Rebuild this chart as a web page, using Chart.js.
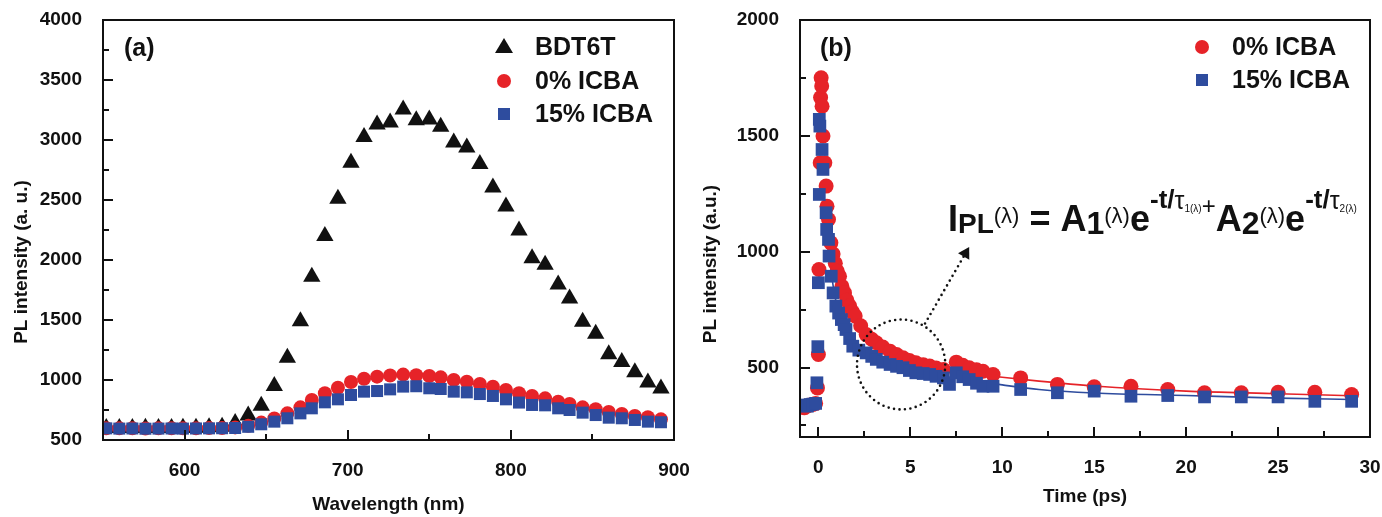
<!DOCTYPE html>
<html>
<head>
<meta charset="utf-8">
<script src="https://cdn.jsdelivr.net/npm/chart.js@4.4.1/dist/chart.umd.min.js"></script>
<style>
  body { margin: 0; background: #fff; }
  #wrap { position: relative; width: 1382px; height: 517px; overflow: hidden;
          font-family: "Liberation Sans", Arial, sans-serif; font-weight: bold; color: #111; }
  canvas { position: absolute; top: 0; }
  #chartA { left: 0; }
  #chartB { left: 700px; }
  .txt { position: absolute; font-size: 25px; line-height: 25px; white-space: nowrap; }
  .tri { position: absolute; width: 0; height: 0; border-left: 9px solid transparent;
         border-right: 9px solid transparent; border-bottom: 15px solid #111; }
  .dot { position: absolute; width: 14px; height: 14px; border-radius: 50%; background: #e62328; }
  .sq { position: absolute; width: 12px; height: 12px; background: #2e4c9e; }
  #eq { position: absolute; left: 948px; top: 201px; display: flex; align-items: baseline;
        font-size: 36px; line-height: 36px; white-space: nowrap; }
  #eq span { position: relative; line-height: 1; }
  #eq .pl { font-size: 28px; top: 2px; }
  #eq .lam { font-size: 22px; font-weight: normal; top: -8px; }
  #eq .big { font-size: 32px; top: 3px; }
  #eq .ex { font-size: 26px; top: -23px; }
  #eq .tau { font-size: 25px; font-weight: normal; top: -22px; }
  #eq .ts { font-size: 10px; font-weight: normal; top: -19px; }
  #eq .plus { font-size: 24px; font-weight: normal; top: -17px; }
</style>
</head>
<body>
<div id="wrap">
  <canvas id="chartA" width="690" height="517"></canvas>
  <canvas id="chartB" width="682" height="517"></canvas>

  <div class="txt" style="left:124px; top:35px;">(a)</div>
  <div class="tri" style="left:495px; top:38px;"></div>
  <div class="txt" style="left:535px; top:34px;">BDT6T</div>
  <div class="dot" style="left:497px; top:74px;"></div>
  <div class="txt" style="left:535px; top:68px;">0% ICBA</div>
  <div class="sq" style="left:498px; top:108px;"></div>
  <div class="txt" style="left:535px; top:101px;">15% ICBA</div>

  <div class="txt" style="left:820px; top:35px;">(b)</div>
  <div class="dot" style="left:1195px; top:40px;"></div>
  <div class="txt" style="left:1232px; top:34px;">0% ICBA</div>
  <div class="sq" style="left:1196px; top:74px;"></div>
  <div class="txt" style="left:1232px; top:67px;">15% ICBA</div>

  <div id="eq">I<span class="pl">PL</span><span class="lam">(λ)</span>&nbsp;=&nbsp;A<span class="big">1</span><span class="lam">(λ)</span>e<span class="ex">-t/</span><span class="tau">τ</span><span class="ts">1(λ)</span><span class="plus">+</span>A<span class="big">2</span><span class="lam">(λ)</span>e<span class="ex">-t/</span><span class="tau">τ</span><span class="ts">2(λ)</span></div>
</div>

<script>
// panel (a): steady-state PL spectra
const wavelength = [552, 560, 568, 576, 584, 592, 599, 607, 615, 623, 631, 639, 647, 655, 663,
  671, 678, 686, 694, 702, 710, 718, 726, 734, 742, 750, 757, 765, 773, 781, 789, 797, 805,
  813, 821, 829, 836, 844, 852, 860, 868, 876, 884, 892];
const bdt6t = [600, 601, 600, 602, 601, 600, 602, 603, 606, 611, 641, 705, 785, 950, 1185,
  1490, 1860, 2200, 2510, 2810, 3025, 3130, 3145, 3255, 3165, 3170, 3110, 2980, 2937, 2800,
  2605, 2445, 2245, 2015, 1960, 1795, 1680, 1485, 1385, 1215, 1150, 1065, 980, 930];
const icba0 = [598, 597, 598, 596, 597, 598, 597, 598, 599, 600, 605, 618, 645, 680, 722, 772,
  833, 889, 936, 983, 1011, 1028, 1038, 1045, 1040, 1033, 1022, 1000, 986, 967, 944, 917, 889,
  867, 847, 819, 800, 772, 756, 733, 717, 700, 689, 672];
const icba15 = [597, 595, 596, 594, 595, 596, 595, 596, 597, 598, 600, 610, 631, 653, 681, 722,
  764, 814, 839, 875, 903, 908, 922, 945, 948, 931, 925, 903, 897, 883, 867, 839, 812, 792, 789,
  764, 750, 728, 708, 686, 681, 667, 653, 648];
const waveTicks = [600, 700, 800, 900];
const waveMinor = [650, 750, 850];
const plTicksA = [500, 1000, 1500, 2000, 2500, 3000, 3500, 4000];
const plMinorA = [750, 1250, 1750, 2250, 2750, 3250, 3750];

// panel (b): time-resolved PL
const timeRed = [-0.9, -0.75, -0.6, -0.45, -0.3, -0.15, -0.05, 0.0, 0.03, 0.1, 0.12, 0.15, 0.18,
  0.2, 0.25, 0.35, 0.42, 0.47, 0.55, 0.68, 0.8, 0.92, 1.03, 1.15, 1.28, 1.42, 1.55, 1.7, 1.85,
  2.0, 2.3, 2.6, 2.9, 3.15, 3.5, 3.9, 4.25, 4.6, 4.95, 5.3, 5.7, 6.05, 6.4, 6.8, 7.5, 7.85, 8.2,
  8.6, 8.95, 9.5, 11, 13, 15, 17, 19, 21, 23, 25, 27, 29];
const plRed = [330, 326, 335, 338, 340, 345, 412, 556, 923, 1384, 1665, 1751, 1715, 1628, 1499,
  1384, 1283, 1196, 1139, 1038, 990, 950, 915, 894, 850, 822, 790, 765, 740, 722, 680, 642, 622,
  607, 588, 570, 556, 542, 530, 520, 512, 506, 498, 491, 523, 510, 499, 490, 484, 470, 455, 427,
  417, 419, 405, 391, 391, 393, 393, 383];
const timeBlue = [-0.9, -0.75, -0.6, -0.45, -0.3, -0.15, -0.08, -0.03, 0.0, 0.05, 0.08, 0.2, 0.25,
  0.05, 0.42, 0.45, 0.55, 0.58, 0.7, 0.8, 0.95, 1.1, 1.25, 1.4, 1.5, 1.7, 1.87, 2.2, 2.6, 2.9,
  3.15, 3.5, 3.9, 4.25, 4.6, 4.95, 5.3, 5.7, 6.05, 6.4, 6.8, 7.13, 7.5, 7.85, 8.2, 8.6, 8.95, 9.5,
  11, 13, 15, 17, 19, 21, 23, 25, 27, 29];
const plBlue = [335, 338, 333, 340, 342, 345, 434, 590, 866, 1571, 1542, 1441, 1355, 1247, 1168,
  1096, 1053, 981, 894, 822, 765, 735, 707, 685, 664, 625, 592, 575, 563, 548, 535, 523, 513, 505,
  499, 487, 477, 474, 470, 462, 455, 427, 477, 460, 448, 432, 419, 419, 405, 391, 398, 376, 379,
  373, 373, 373, 354, 354];
// fitted bi-exponential curves
const timeFit = [0.5, 0.75, 1, 1.5, 2, 3, 4, 5, 6, 7, 8, 10, 12, 15, 20, 25, 29];
const fitRed = [1150, 1020, 930, 800, 715, 615, 565, 530, 505, 490, 478, 458, 441, 420, 398, 387, 378];
const fitBlue = [1050, 880, 770, 650, 600, 540, 508, 487, 472, 460, 448, 425, 405, 390, 379, 368, 362];
const timeTicks = [0, 5, 10, 15, 20, 25, 30];
const timeMinor = [2.5, 7.5, 12.5, 17.5, 22.5, 27.5];
const plTicksB = [500, 1000, 1500, 2000];
const plMinorB = [250, 750, 1250, 1750];

const RED = '#e62328';
const BLUE = '#2e4c9e';
const INK = '#111';
const FONT = '"Liberation Sans", Arial, sans-serif';

Chart.defaults.font.family = FONT;
Chart.defaults.font.weight = 'bold';
Chart.defaults.font.size = 19;
Chart.defaults.color = INK;

const pairs = (xs, ys) => xs.map((x, i) => ({ x: x, y: ys[i] }));

// box around the plot, inward tick marks on the bottom and left axes, rotated y title
const framePlugin = {
  id: 'frame',
  afterDatasetsDraw(chart, args, opts) {
    const { ctx, chartArea: a, scales: { x, y } } = chart;
    ctx.save();
    ctx.strokeStyle = INK;
    ctx.lineWidth = 2;
    ctx.beginPath();
    const xTick = (v, len) => {
      const px = Math.round(x.getPixelForValue(v));
      ctx.moveTo(px, a.bottom);
      ctx.lineTo(px, a.bottom - len);
    };
    const yTick = (v, len) => {
      const py = Math.round(y.getPixelForValue(v));
      ctx.moveTo(a.left, py);
      ctx.lineTo(a.left + len, py);
    };
    x.ticks.forEach(t => xTick(t.value, 10));
    opts.xMinor.forEach(v => xTick(v, 6));
    y.ticks.forEach(t => yTick(t.value, 10));
    opts.yMinor.forEach(v => yTick(v, 6));
    ctx.stroke();
    ctx.strokeRect(a.left, a.top, a.right - a.left, a.bottom - a.top);

    ctx.translate(opts.titleX, opts.titleY);
    ctx.rotate(-Math.PI / 2);
    ctx.fillStyle = INK;
    ctx.font = 'bold 19px ' + FONT;
    ctx.textAlign = 'center';
    ctx.textBaseline = 'middle';
    ctx.fillText(opts.title, 0, 0);
    ctx.restore();
  }
};

// dotted circle around the tail and dotted arrow pointing at the formula
const notePlugin = {
  id: 'note',
  afterDatasetsDraw(chart) {
    const { ctx, scales: { x, y } } = chart;
    const cx = x.getPixelForValue(4.5), cy = y.getPixelForValue(513);
    const rx = x.getPixelForValue(6.9) - cx, ry = cy - y.getPixelForValue(707);
    const x0 = x.getPixelForValue(5.8), y0 = y.getPixelForValue(690);
    const x1 = x.getPixelForValue(8.2), y1 = y.getPixelForValue(1020);
    ctx.save();
    ctx.strokeStyle = INK;
    ctx.fillStyle = INK;
    ctx.lineWidth = 2.6;
    ctx.lineCap = 'round';
    ctx.setLineDash([0, 5.5]);
    ctx.beginPath();
    ctx.ellipse(cx, cy, rx, ry, 0, 0, Math.PI * 2);
    ctx.stroke();
    const ang = Math.atan2(y1 - y0, x1 - x0);
    const hx = x1 - Math.cos(ang) * 11, hy = y1 - Math.sin(ang) * 11;
    ctx.beginPath();
    ctx.moveTo(x0, y0);
    ctx.lineTo(hx, hy);
    ctx.stroke();
    ctx.setLineDash([]);
    ctx.beginPath();
    ctx.moveTo(x1, y1);
    ctx.lineTo(hx + Math.sin(ang) * 6.5, hy - Math.cos(ang) * 6.5);
    ctx.lineTo(hx - Math.sin(ang) * 6.5, hy + Math.cos(ang) * 6.5);
    ctx.closePath();
    ctx.fill();
    ctx.restore();
  }
};

function axis(min, max, ticks, size, isY, title, titlePad) {
  return {
    type: 'linear',
    min: min,
    max: max,
    grid: { display: false },
    border: { display: false },
    afterBuildTicks: s => { s.ticks = ticks.map(v => ({ value: v })); },
    afterFit: s => {
      if (isY) {
        s.width = size;
        s.paddingTop = 0;
        s.paddingBottom = 0;
      } else {
        s.height = size;
        s.paddingLeft = 0;
        s.paddingRight = 0;
      }
    },
    ticks: { autoSkip: false, maxRotation: 0, padding: isY ? 13 : 11, callback: v => String(v) },
    title: { display: !!title, text: title, padding: titlePad, font: { size: 19, weight: 'bold' } }
  };
}

function scatterSet(label, xs, ys, color, style, radius, order) {
  return {
    label: label,
    data: pairs(xs, ys),
    showLine: false,
    pointStyle: style,
    pointRadius: radius,
    pointHoverRadius: radius,
    pointBackgroundColor: color,
    pointBorderColor: color,
    pointBorderWidth: 0,
    order: order
  };
}

function fitSet(xs, ys, color) {
  return {
    data: pairs(xs, ys),
    showLine: true,
    pointRadius: 0,
    borderColor: color,
    borderWidth: 1.6,
    cubicInterpolationMode: 'monotone',
    order: 5
  };
}

const common = {
  responsive: false,
  animation: false,
  events: [],
  plugins: { legend: { display: false }, tooltip: { enabled: false } }
};

new Chart(document.getElementById('chartA'), {
  type: 'scatter',
  data: {
    datasets: [
      scatterSet('BDT6T', wavelength, bdt6t, INK, 'triangle', 10, 3),
      scatterSet('0% ICBA', wavelength, icba0, RED, 'circle', 7, 2),
      scatterSet('15% ICBA', wavelength, icba15, BLUE, 'rect', 8.5, 1)
    ]
  },
  options: Object.assign({}, common, {
    layout: { padding: { left: 0, right: 16, top: 20, bottom: 0 } },
    scales: {
      x: axis(550, 900, waveTicks, 77, false, 'Wavelength (nm)', { top: 0, bottom: 1 }),
      y: axis(500, 4000, plTicksA, 103, true)
    },
    plugins: Object.assign({}, common.plugins, {
      frame: { xMinor: waveMinor, yMinor: plMinorA, title: 'PL intensity (a. u.)', titleX: 22, titleY: 262 }
    })
  }),
  plugins: [framePlugin]
});

new Chart(document.getElementById('chartB'), {
  type: 'scatter',
  data: {
    datasets: [
      fitSet(timeFit, fitRed, RED),
      fitSet(timeFit, fitBlue, BLUE),
      scatterSet('0% ICBA', timeRed, plRed, RED, 'circle', 7.5, 2),
      scatterSet('15% ICBA', timeBlue, plBlue, BLUE, 'rect', 9, 1)
    ]
  },
  options: Object.assign({}, common, {
    layout: { padding: { left: 0, right: 12, top: 20, bottom: 0 } },
    scales: {
      x: axis(-1, 30, timeTicks, 80, false, 'Time (ps)', { top: 0, bottom: 9 }),
      y: axis(200, 2000, plTicksB, 100, true)
    },
    plugins: Object.assign({}, common.plugins, {
      frame: { xMinor: timeMinor, yMinor: plMinorB, title: 'PL intensity (a.u.)', titleX: 11, titleY: 264 }
    })
  }),
  plugins: [framePlugin, notePlugin]
});
</script>
</body>
</html>
